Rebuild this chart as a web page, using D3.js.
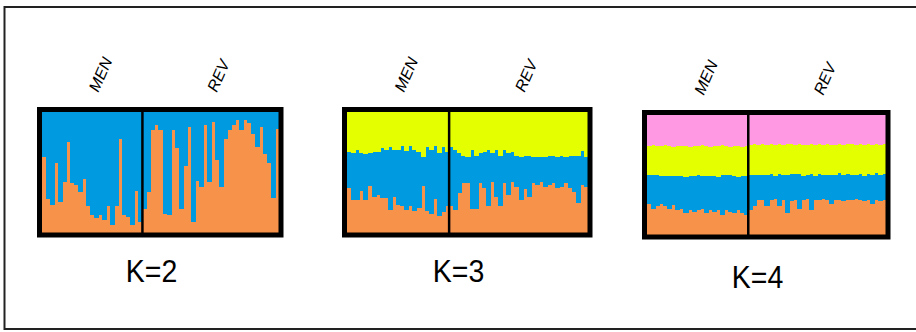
<!DOCTYPE html>
<html>
<head>
<meta charset="utf-8">
<script src="https://cdn.jsdelivr.net/npm/d3@7"></script>
</head>
<style>
body {
    margin: 0;
    background: #fff;
}
text {
    font-family: "Liberation Sans", Arial, sans-serif;
}
</style>
<body>
<svg id="canvas"></svg>
<script>

// population labels and sizes
const popNames = ['MEN', 'REV'];
const popSizes = [25, 34];
const kLabels = ['K=2', 'K=3', 'K=4'];

// ancestry fractions per individual (MEN first, then REV)
const k2Orange = [
    0.63, 0.28, 0.23, 0.58, 0.26, 0.42, 0.75, 0.41, 0.40, 0.34, 0.45, 0.22, 0.15,
    0.12, 0.15, 0.11, 0.22, 0.07, 0.22, 0.78, 0.15, 0.13, 0.07, 0.35, 0.09,
    0.20, 0.34, 0.85, 0.89, 0.85, 0.16, 0.15, 0.85, 0.70, 0.20, 0.55, 0.88, 0.09,
    0.43, 0.38, 0.89, 0.42, 0.92, 0.60, 0.38, 0.78, 0.85, 0.89, 0.93, 0.85, 0.93,
    0.91, 0.82, 0.71, 0.88, 0.65, 0.58, 0.29, 0.86
];

const k3Orange = [
    0.37, 0.27, 0.27, 0.35, 0.27, 0.39, 0.30, 0.31, 0.29, 0.29, 0.19, 0.30, 0.23,
    0.22, 0.19, 0.22, 0.18, 0.21, 0.39, 0.18, 0.16, 0.28, 0.14, 0.17, 0.22,
    0.22, 0.19, 0.33, 0.41, 0.41, 0.20, 0.20, 0.41, 0.37, 0.22, 0.42, 0.30, 0.22,
    0.41, 0.31, 0.42, 0.38, 0.27, 0.36, 0.30, 0.41, 0.40, 0.42, 0.38, 0.40, 0.41,
    0.37, 0.38, 0.41, 0.37, 0.34, 0.25, 0.40, 0.38
];
const k3Yellow = [
    0.33, 0.34, 0.31, 0.34, 0.35, 0.34, 0.33, 0.33, 0.30, 0.31, 0.29, 0.31, 0.31,
    0.28, 0.32, 0.28, 0.31, 0.33, 0.37, 0.29, 0.31, 0.28, 0.34, 0.29, 0.33,
    0.29, 0.31, 0.34, 0.36, 0.37, 0.31, 0.36, 0.34, 0.33, 0.31, 0.34, 0.31, 0.36,
    0.31, 0.34, 0.33, 0.36, 0.37, 0.36, 0.36, 0.37, 0.37, 0.37, 0.37, 0.36, 0.36,
    0.37, 0.36, 0.37, 0.36, 0.36, 0.36, 0.32, 0.37
];

const k4Orange = [
    0.26, 0.22, 0.24, 0.26, 0.24, 0.22, 0.25, 0.21, 0.22, 0.18, 0.21, 0.19, 0.21,
    0.22, 0.18, 0.21, 0.19, 0.21, 0.17, 0.21, 0.19, 0.18, 0.21, 0.18, 0.17,
    0.21, 0.24, 0.29, 0.29, 0.24, 0.29, 0.30, 0.24, 0.29, 0.18, 0.28, 0.29, 0.22,
    0.29, 0.30, 0.21, 0.29, 0.29, 0.30, 0.29, 0.26, 0.29, 0.29, 0.28, 0.29, 0.29,
    0.30, 0.29, 0.28, 0.29, 0.26, 0.29, 0.28, 0.29
];
const k4Yellow = [
    0.24, 0.25, 0.24, 0.25, 0.26, 0.25, 0.24, 0.25, 0.25, 0.26, 0.24, 0.25, 0.24,
    0.26, 0.25, 0.24, 0.25, 0.26, 0.25, 0.24, 0.23, 0.25, 0.26, 0.24, 0.25,
    0.25, 0.26, 0.25, 0.26, 0.25, 0.25, 0.26, 0.25, 0.25, 0.26, 0.25, 0.24, 0.25,
    0.26, 0.25, 0.25, 0.26, 0.25, 0.25, 0.26, 0.25, 0.25, 0.24, 0.25, 0.25, 0.26,
    0.25, 0.25, 0.26, 0.25, 0.25, 0.24, 0.25, 0.25
];
const k4Pink = [
    0.26, 0.25, 0.26, 0.26, 0.25, 0.26, 0.27, 0.26, 0.26, 0.26, 0.27, 0.26, 0.26,
    0.25, 0.26, 0.27, 0.26, 0.26, 0.25, 0.26, 0.27, 0.26, 0.26, 0.27, 0.26,
    0.25, 0.24, 0.25, 0.24, 0.25, 0.24, 0.25, 0.24, 0.25, 0.24, 0.24, 0.25, 0.24,
    0.25, 0.25, 0.24, 0.25, 0.24, 0.25, 0.24, 0.25, 0.25, 0.24, 0.25, 0.24, 0.24,
    0.25, 0.24, 0.25, 0.24, 0.25, 0.24, 0.25, 0.24
];

const COLORS = { orange: '#f7924b', blue: '#009ae0', yellow: '#e4ff00', pink: '#ff99e3' };

const canvasWidth = 916, canvasHeight = 332;

const svg = d3.select('svg#canvas')
    .attr('width', canvasWidth)
    .attr('height', canvasHeight);

// outer frame
svg.append('rect')
    .attr('x', 4.5).attr('y', 7)
    .attr('width', 920).attr('height', 322)
    .attr('fill', 'none')
    .attr('stroke', '#222')
    .attr('stroke-width', 2);

const nInd = d3.sum(popSizes);
const ids = d3.range(nInd);

const panels = [
    { label: kLabels[0], x0: 42, x1: 279, y0: 112, y1: 233, labelY: 282,
      keys: ['orange', 'blue'],
      data: ids.map(i => ({ id: i, orange: k2Orange[i], blue: 1 - k2Orange[i] })) },
    { label: kLabels[1], x0: 347, x1: 588, y0: 112, y1: 233, labelY: 282,
      keys: ['orange', 'blue', 'yellow'],
      data: ids.map(i => ({ id: i, orange: k3Orange[i], yellow: k3Yellow[i],
                            blue: 1 - k3Orange[i] - k3Yellow[i] })) },
    { label: kLabels[2], x0: 647, x1: 886, y0: 115, y1: 235, labelY: 288,
      keys: ['orange', 'blue', 'yellow', 'pink'],
      data: ids.map(i => ({ id: i, orange: k4Orange[i], yellow: k4Yellow[i], pink: k4Pink[i],
                            blue: 1 - k4Orange[i] - k4Yellow[i] - k4Pink[i] })) }
];

panels.forEach(p => {
    const g = svg.append('g');
    const x = d3.scaleBand().domain(ids).range([p.x0, p.x1]).padding(0);
    const y = d3.scaleLinear().domain([0, 1]).range([p.y1, p.y0]);

    const series = d3.stack().keys(p.keys)(p.data);

    g.selectAll('g.layer')
        .data(series)
        .join('g')
        .attr('class', 'layer')
        .attr('fill', d => COLORS[d.key])
        .attr('shape-rendering', 'crispEdges')
        .selectAll('rect')
        .data(d => d)
        .join('rect')
        .attr('x', d => x(d.data.id))
        .attr('width', x.bandwidth() + 1)
        .attr('y', d => y(Math.min(1, d[1])))
        .attr('height', d => y(d[0]) - y(Math.min(1, d[1])));

    // population divider
    const split = x(popSizes[0]);
    g.append('line')
        .attr('x1', split).attr('x2', split)
        .attr('y1', p.y0).attr('y2', p.y1)
        .attr('stroke', '#000')
        .attr('stroke-width', 2.5);

    // panel border
    g.append('rect')
        .attr('x', p.x0 - 2.5).attr('y', p.y0 - 2.5)
        .attr('width', p.x1 - p.x0 + 4.5).attr('height', p.y1 - p.y0 + 4.5)
        .attr('fill', 'none')
        .attr('stroke', '#000')
        .attr('stroke-width', 5);

    // population labels
    let start = 0;
    popNames.forEach((name, j) => {
        const cx = x(start) + (popSizes[j] * x.bandwidth()) / 2;
        start += popSizes[j];
        g.append('text')
            .attr('transform', `translate(${cx + 6},${p.y0 - 19}) rotate(-66)`)
            .attr('font-size', 16)
            .attr('font-style', 'italic')
            .attr('fill', '#000')
            .text(name);
    });

    // K label (slightly condensed, like the original)
    const lx = (p.x0 + p.x1) / 2 - 9;
    g.append('text')
        .attr('transform', `translate(${lx},${p.labelY}) scale(0.89,1)`)
        .attr('text-anchor', 'middle')
        .attr('font-size', 32)
        .attr('fill', '#000')
        .text(p.label);
});

</script>
</body>
</html>
